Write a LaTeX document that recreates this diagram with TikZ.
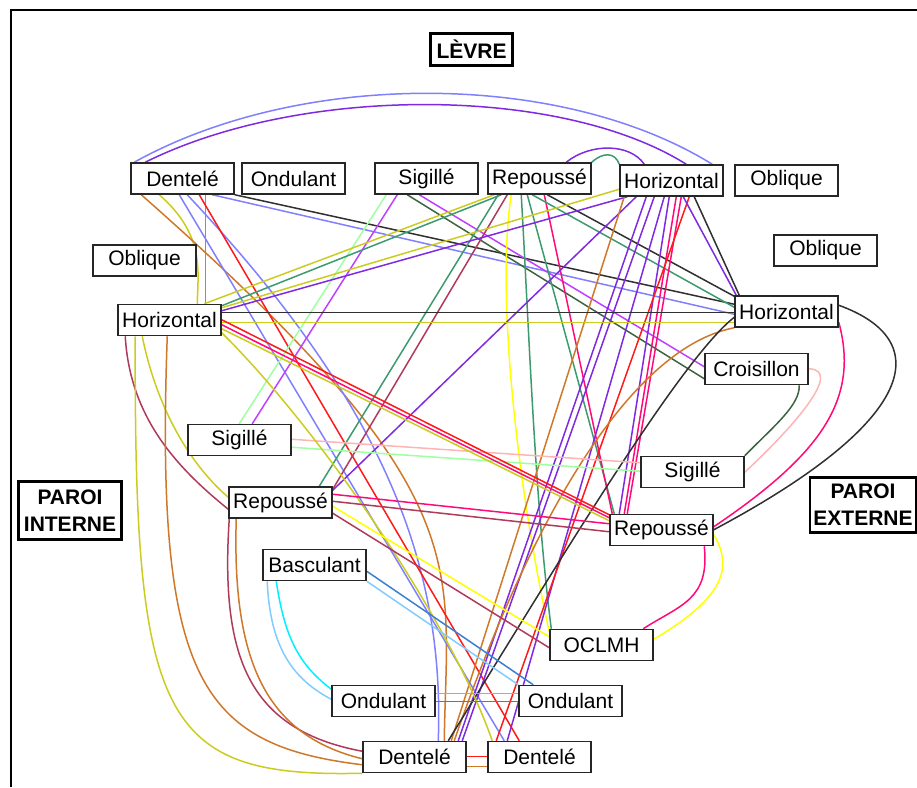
\documentclass[tikz,border=0pt]{standalone}
\usepackage{fontspec}
\setmainfont{Liberation Sans}
\usepackage{tikz}
\usetikzlibrary{backgrounds}
\definecolor{cBlue}{HTML}{8080FF}
\definecolor{cPurple}{HTML}{7F2AE0}
\definecolor{cRed}{HTML}{FF1A1A}
\definecolor{cPink}{HTML}{FF0A78}
\definecolor{cRose}{HTML}{FFB4B4}
\definecolor{cMint}{HTML}{A0FFA0}
\definecolor{cGreen}{HTML}{3C9A6E}
\definecolor{cForest}{HTML}{3C6440}
\definecolor{cMagenta}{HTML}{C040FF}
\definecolor{cYellow}{HTML}{FFFF00}
\definecolor{cOlive}{HTML}{CCCC20}
\definecolor{cOrange}{HTML}{D0782A}
\definecolor{cMaroon}{HTML}{B03A5A}
\definecolor{cGrey}{HTML}{303030}
\definecolor{cSteel}{HTML}{3A80D0}
\definecolor{cSky}{HTML}{80CCFF}
\definecolor{cCyan}{HTML}{00F0FF}

\begin{document}
\begin{tikzpicture}[x=1pt, y=-1pt,
    box/.style={draw=black!85, line width=1.5pt, fill=white, minimum width=103pt, minimum height=31pt, inner sep=0pt, font=\fontsize{21}{24}\selectfont},
    zone/.style={draw, line width=2.8pt, fill=white, align=center, inner sep=0pt, font=\bfseries\fontsize{21}{27}\selectfont},
    link/.style={line width=1.5pt}
]
    \useasboundingbox (0,0) rectangle (917,787);
    \draw[line width=2pt] (11,787) -- (11,10) -- (917,10);

    \node[zone, minimum width=82pt, minimum height=32pt] (levre) at (471.5,49.5) {LÈVRE};
    \node[zone, minimum width=103pt, minimum height=58pt] (interne) at (70,510.5) {PAROI\\INTERNE};
    \node[zone, minimum width=106pt, minimum height=55pt] (externe) at (863,505) {PAROI\\EXTERNE};

    \node[box] (tDen) at (182.5,178.5) {Dentelé};
    \node[box] (tOnd) at (293.5,178.5) {Ondulant};
    \node[box] (tSig) at (426.5,178.5) {Sigillé};
    \node[box] (tRep) at (539.5,178.5) {Repoussé};
    \node[box] (tHor) at (671.5,180.5) {Horizontal};
    \node[box] (tObl) at (786.5,180.5) {Oblique};
    \node[box] (rObl) at (825.5,250.5) {Oblique};
    \node[box] (lObl) at (144.5,260.5) {Oblique};
    \node[box] (lHor) at (169.5,320) {Horizontal};
    \node[box] (rHor) at (786.5,311.5) {Horizontal};
    \node[box] (Crois) at (756.5,369) {Croisillon};
    \node[box] (lSig) at (239.5,440) {Sigillé};
    \node[box] (rSig) at (692.5,472) {Sigillé};
    \node[box] (lRep) at (280.5,502.5) {Repoussé};
    \node[box] (rRep) at (661.5,530) {Repoussé};
    \node[box] (Basc) at (314.5,565) {Basculant};
    \node[box] (OCLMH) at (601.5,645) {OCLMH};
    \node[box] (bOndL) at (383.5,701) {Ondulant};
    \node[box] (bOndR) at (570.5,701) {Ondulant};
    \node[box] (bDenL) at (414.5,757) {Dentelé};
    \node[box] (bDenR) at (539.5,757) {Dentelé};

    \begin{pgfonlayer}{background}
    \begin{scope}[link]
    % levre
    \draw[cBlue] ([xshift=4pt]tDen.north west) .. controls (300,70) and (560,70) .. ([xshift=93pt]tHor.north west);
    \draw[cPurple] ([xshift=15pt]tDen.north west) .. controls (300,85) and (560,85) .. ([xshift=67pt]tHor.north west);
    \draw[cOlive] ([xshift=29pt]tDen.south west) .. controls (205,235) and (198,270) .. ([xshift=80pt]lHor.north west);
    \draw[cBlue] ([xshift=75pt]tDen.south west) -- ([xshift=88pt]lHor.north west);
    \draw[cOrange] ([xshift=11pt]tDen.south west) .. controls (481,494) and (447,560) .. ([xshift=82pt]bDenL.north west);
    \draw[cBlue] ([xshift=57pt]tDen.south west) .. controls (380,400) and (445,560) .. ([xshift=76pt]bDenL.north west);
    \draw[cBlue] ([xshift=49pt]tDen.south west) -- ([xshift=17pt]bDenR.north west);
    \draw[cRed] ([xshift=69pt]tDen.south west) -- ([xshift=32pt]bDenR.north west);
    \draw[cBlue] ([xshift=82pt]tDen.south west) -- ([yshift=-19pt]rHor.north west);
    \draw[cGrey] (tDen.south east) -- ([yshift=-9pt]rHor.north west);

    \draw[cMint] ([xshift=12pt]tSig.south west) -- ([xshift=52pt]lSig.north west);
    \draw[cMagenta] ([xshift=23pt]tSig.south west) -- ([xshift=65pt]lSig.north west);
    \draw[cForest] ([xshift=33pt]tSig.south west) -- ([yshift=-26pt]Crois.north west);
    \draw[cMagenta] ([xshift=45pt]tSig.south west) -- ([yshift=-14pt]Crois.north west);

    \draw[cOlive] ([xshift=7pt]tRep.south west) -- ([xshift=87pt]lHor.north west);
    \draw[cGreen] ([xshift=14pt]tRep.south west) -- ([yshift=-2pt]lHor.north east);
    \draw[cGreen] ([xshift=11pt]tRep.south west) -- ([xshift=91pt]lRep.north west);
    \draw[cMaroon] ([xshift=20pt]tRep.south west) -- ([yshift=-3pt]lRep.north east);
    \draw[cYellow] ([xshift=24pt]tRep.south west) .. controls (495,300) and (520,500) .. ([yshift=-3pt]OCLMH.north west);
    \draw[cGreen] ([xshift=34pt]tRep.south west) .. controls (530,350) and (535,500) .. ([xshift=2pt]OCLMH.north west);
    \draw[cGreen] ([xshift=40pt]tRep.south west) -- ([xshift=5pt]rRep.north west);
    \draw[cPink] ([xshift=57pt]tRep.south west) -- ([xshift=3pt]rRep.north west);
    \draw[cGreen] ([xshift=45pt]tRep.south west) -- ([yshift=-12pt]rHor.north west);
    \draw[cGrey] ([xshift=60pt]tRep.south west) -- ([yshift=-1pt]rHor.north west);
    \draw[cPurple] ([xshift=79pt]tRep.north west) .. controls (590,143) and (630,143) .. ([xshift=25pt]tHor.north west);
    \draw[cGreen] (tRep.north east) .. controls (603,152) and (615,152) .. (tHor.north west);

    \draw[cOlive] ([yshift=-25pt]tHor.north west) -- ([yshift=-4pt]lHor.north east);
    \draw[cPurple] ([xshift=8pt]tHor.south west) -- ([yshift=-7pt]lHor.north east);
    \draw[cPurple] ([xshift=17pt]tHor.south west) -- ([yshift=-4pt]lRep.north east);
    \draw[cOrange] ([xshift=5pt]tHor.south west) -- ([xshift=89pt]bDenL.north west);
    \draw[cPurple] ([xshift=27pt]tHor.south west) -- ([xshift=96pt]bDenL.north west);
    \draw[cPurple] ([xshift=35pt]tHor.south west) -- ([xshift=100pt]bDenL.north west);
    \draw[cPurple] ([xshift=45pt]tHor.south west) -- ([xshift=20pt]bDenR.north west);
    \draw[cPurple] ([xshift=50pt]tHor.south west) -- ([xshift=10pt]rRep.north west);
    \draw[cPink] ([xshift=57pt]tHor.south west) -- ([xshift=15pt]rRep.north west);
    \draw[cPink] ([xshift=62pt]tHor.south west) -- ([xshift=18pt]rRep.north west);
    \draw[cRed] ([xshift=70pt]tHor.south west) -- ([xshift=9pt]bDenR.north west);
    \draw[cPurple] ([xshift=64pt]tHor.south west) -- ([xshift=2pt]rHor.north west);
    \draw[cGrey] ([xshift=75pt]tHor.south west) -- ([xshift=5pt]rHor.north west);

    % paroi externe
    \draw[cGrey] ([yshift=-8.5pt]lHor.north east) -- ([yshift=-17pt]rHor.north west);
    \draw[cOlive] ([yshift=-18.5pt]lHor.north east) -- ([yshift=-27pt]rHor.north west);
    \draw[cPink] ([yshift=-27pt]rHor.north east) .. controls (860,400) and (820,455) .. ([yshift=-13pt]rRep.north east);
    \draw[cGrey] ([yshift=-10pt]rHor.north east) .. controls (935,340) and (920,420) .. ([yshift=-16pt]rRep.north east);
    \draw[cOrange] (rHor.south west) .. controls (620,350) and (520,550) .. ([xshift=92pt]bDenL.north west);
    \draw[cGrey] ([yshift=-22pt]rHor.north west) .. controls (680,360) and (560,560) .. ([xshift=86pt]bDenL.north west);
    \draw[cPink] ([xshift=95pt]rRep.south west) .. controls (710,600) and (680,605) .. ([xshift=94pt]OCLMH.north west);
    \draw[cYellow] ([yshift=-21pt]rRep.north east) .. controls (735,570) and (720,600) .. ([yshift=-10.5pt]OCLMH.north east);
    \draw[cForest] (rSig.north east) .. controls (775,425) and (800,405) .. ([xshift=95pt]Crois.south west);
    \draw[cRose] ([yshift=-16.5pt]rSig.north east) .. controls (790,430) and (845,370) .. ([yshift=-16pt]Crois.north east);
    \draw[cRose] ([yshift=-15.5pt]lSig.north east) -- ([yshift=-7pt]rSig.north west);
    \draw[cMint] ([yshift=-23.5pt]lSig.north east) -- ([yshift=-15.5pt]rSig.north west);

    % paroi interne
    \draw[cMaroon] ([xshift=8pt]lHor.south west) .. controls (130,420) and (180,470) .. ([yshift=-23pt]lRep.north west);
    \draw[cOlive] ([xshift=25pt]lHor.south west) .. controls (155,400) and (185,460) .. ([yshift=-11pt]lRep.north west);
    \draw[cOlive] ([xshift=18pt]lHor.south west) .. controls (134,720) and (160,778) .. (bDenL.south west);
    \draw[cOrange] ([xshift=50pt]lHor.south west) .. controls (155,680) and (200,745) .. ([yshift=-24pt]bDenL.north west);
    \draw[cRed] ([yshift=-16pt]lHor.north east) -- ([yshift=-1pt]rRep.north west);
    \draw[cPink] ([yshift=-21pt]lHor.north east) -- ([yshift=-4pt]rRep.north west);
    \draw[cOlive] ([yshift=-25pt]lHor.north east) -- ([yshift=-7pt]rRep.north west);
    \draw[cOlive] ([yshift=-29pt]lHor.north east) .. controls (320,430) and (450,620) .. ([xshift=5pt]bDenR.north west);
    \draw[cMaroon] ([xshift=1pt]lRep.south west) .. controls (220,660) and (250,730) .. ([yshift=-10.5pt]bDenL.north west);
    \draw[cOrange] ([xshift=8pt]lRep.south west) .. controls (232,660) and (265,735) .. ([yshift=-18pt]bDenL.north west);
    \draw[cPink] ([yshift=-8pt]lRep.north east) -- ([yshift=-10pt]rRep.north west);
    \draw[cMaroon] ([yshift=-15pt]lRep.north east) -- ([yshift=-18pt]rRep.north west);
    \draw[cYellow] ([yshift=-20pt]lRep.north east) -- ([yshift=-8pt]OCLMH.north west);
    \draw[cMaroon] ([yshift=-27pt]lRep.north east) -- ([yshift=-19pt]OCLMH.north west);
    \draw[cCyan] ([xshift=14pt]Basc.south west) .. controls (285,640) and (300,665) .. ([yshift=-4.5pt]bOndL.north west);
    \draw[cSky] ([xshift=5pt]Basc.south west) .. controls (270,650) and (295,680) .. ([yshift=-14.5pt]bOndL.north west);
    \draw[cSteel] ([yshift=-22.5pt]Basc.north east) -- ([xshift=15pt]bOndR.north west);
    \draw[cSky] (Basc.south east) -- (bOndR.north west);

    % fond
    \draw[cCyan] ([yshift=-8.5pt]bOndL.north east) -- ([yshift=-8.5pt]bOndR.north west);
    \draw[cSteel] ([yshift=-16.5pt]bOndL.north east) -- ([yshift=-16.5pt]bOndR.north west);
    \draw[cRed] ([yshift=-15.5pt]bDenL.north east) -- ([yshift=-15.5pt]bDenR.north west);
    \draw[cOrange] ([yshift=-25.5pt]bDenL.north east) -- ([yshift=-25.5pt]bDenR.north west);
    \end{scope}
    \end{pgfonlayer}
\end{tikzpicture}
\end{document}
